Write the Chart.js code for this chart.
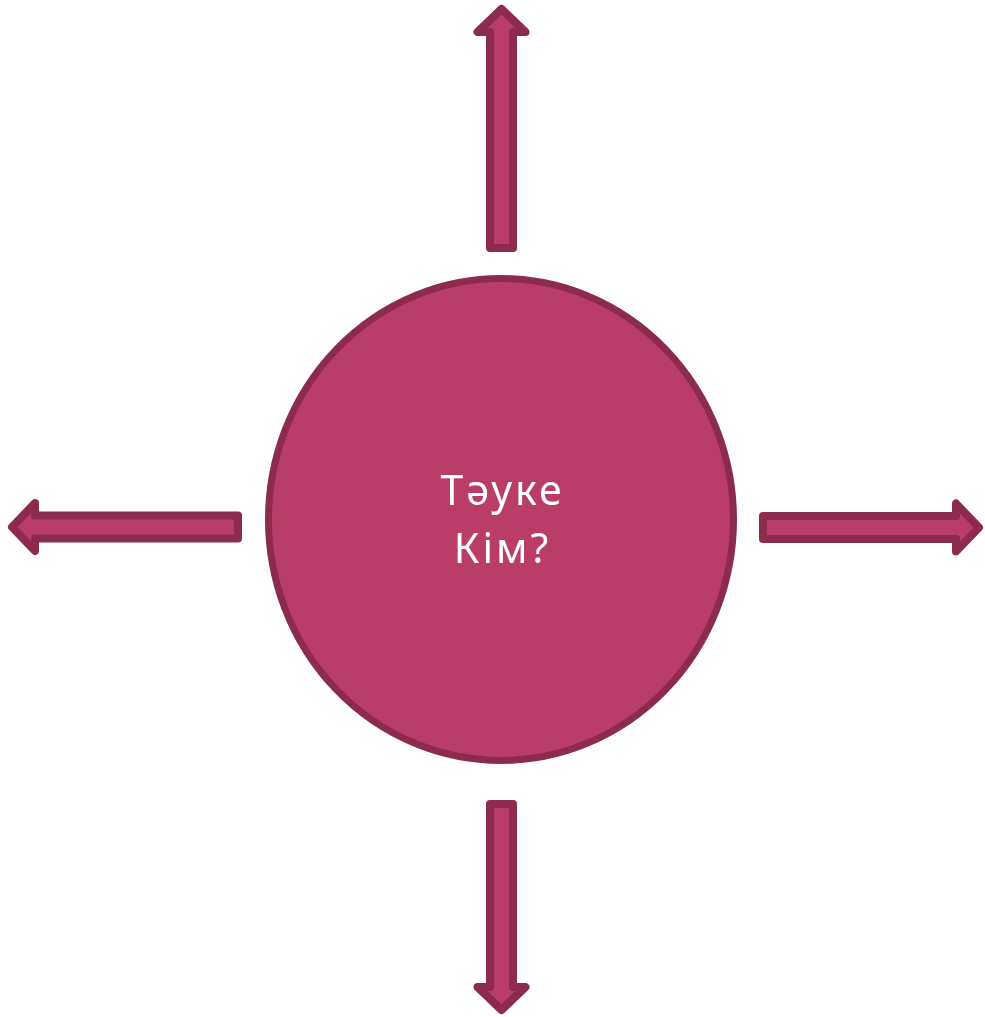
<!DOCTYPE html>
<html>
<head>
<meta charset="utf-8">
<script src="https://cdn.jsdelivr.net/npm/chart.js@4/dist/chart.umd.min.js"></script>
<style>
html,body{margin:0;padding:0;background:#fff;}
#wrap{width:985px;height:1017px;position:relative;}
</style>
</head>
<body>
<div id="wrap"><canvas id="c"></canvas></div>
<script>
// Diagram content
const centerLabel = ['Тәуке', 'Кім?'];
const arrowDirections = ['up', 'right', 'down', 'left'];

const FILL = '#B93D68';
const EDGE = '#8C2A50';

const geometry = {
  center: {x: 501, y: 519.5, rx: 232.5, ry: 241},
  arrows: {
    up:    {from: [501.5, 248], to: [501.5, 9]},
    down:  {from: [501.5, 804], to: [501.5, 1010]},
    left:  {from: [238, 527],   to: [12, 527]},
    right: {from: [763, 527.5], to: [979, 527.5]}
  },
  shaftHalf: 11.5, headHalf: 24, headLen: 23
};

const diagramPlugin = {
  id: 'diagram',
  afterDatasetsDraw(chart) {
    const ctx = chart.ctx;
    const xs = chart.scales.x, ys = chart.scales.y;
    const px = v => xs.getPixelForValue(v), py = v => ys.getPixelForValue(v);
    ctx.save();
    ctx.lineJoin = 'round';
    ctx.lineWidth = 8;
    // arrows
    arrowDirections.forEach(d => {
      const a = geometry.arrows[d];
      const x0 = px(a.from[0]), y0 = py(a.from[1]);
      const x1 = px(a.to[0]), y1 = py(a.to[1]);
      const len = Math.hypot(x1 - x0, y1 - y0);
      const ux = (x1 - x0) / len, uy = (y1 - y0) / len;
      const nx = -uy, ny = ux;
      const s = geometry.shaftHalf, h = geometry.headHalf, hl = geometry.headLen;
      const bx = x1 - ux * hl, by = y1 - uy * hl;
      ctx.beginPath();
      ctx.moveTo(x0 + nx * s, y0 + ny * s);
      ctx.lineTo(bx + nx * s, by + ny * s);
      ctx.lineTo(bx + nx * h, by + ny * h);
      ctx.lineTo(x1, y1);
      ctx.lineTo(bx - nx * h, by - ny * h);
      ctx.lineTo(bx - nx * s, by - ny * s);
      ctx.lineTo(x0 - nx * s, y0 - ny * s);
      ctx.closePath();
      ctx.fillStyle = FILL;
      ctx.fill();
      ctx.strokeStyle = EDGE;
      ctx.stroke();
    });
    // central circle
    const c = geometry.center;
    ctx.beginPath();
    ctx.ellipse(px(c.x), py(c.y), Math.abs(px(c.x + c.rx) - px(c.x)), Math.abs(py(c.y + c.ry) - py(c.y)), 0, 0, Math.PI * 2);
    ctx.fillStyle = FILL;
    ctx.fill();
    ctx.lineWidth = 7;
    ctx.strokeStyle = EDGE;
    ctx.stroke();
    // label
    ctx.fillStyle = '#ffffff';
    ctx.font = '41px "Noto Sans", sans-serif';
    ctx.textAlign = 'center';
    ctx.textBaseline = 'alphabetic';
    try { ctx.letterSpacing = '3px'; } catch (e) {}
    const baselines = [505, 563];
    centerLabel.forEach((t, i) => ctx.fillText(t, px(c.x + 1.5), py(baselines[i])));
    ctx.restore();
  }
};

new Chart(document.getElementById('c'), {
  type: 'scatter',
  data: { datasets: [{ data: [], pointRadius: 0 }] },
  options: {
    responsive: true,
    maintainAspectRatio: false,
    animation: false,
    layout: { padding: 0 },
    plugins: { legend: { display: false }, tooltip: { enabled: false } },
    scales: {
      x: { type: 'linear', min: 0, max: 985, display: false },
      y: { type: 'linear', min: 0, max: 1017, reverse: true, display: false }
    }
  },
  plugins: [diagramPlugin]
});
</script>
</body>
</html>
